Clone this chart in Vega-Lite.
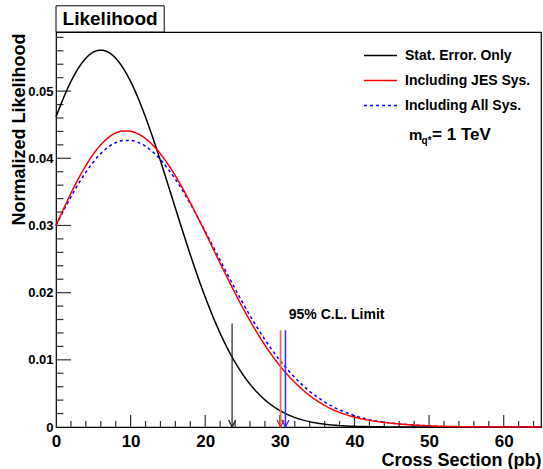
{
"$schema": "https://vega.github.io/schema/vega-lite/v6.json",
"width": 485, "height": 395,
"autosize": {"type": "none"},
"padding": {"left": 56, "top": 32, "right": 2, "bottom": 42},
"background": "white",
"config": {"font": "Liberation Sans", "view": {"stroke": "#000", "strokeWidth": 1.2}},
"datasets": {
"curves": [
{"series":"Stat. Error. Only","x":0,"y":0.04613},{"series":"Stat. Error. Only","x":1,"y":0.04897},{"series":"Stat. Error. Only","x":2,"y":0.05143},{"series":"Stat. Error. Only","x":3,"y":0.05342},{"series":"Stat. Error. Only","x":4,"y":0.05489},{"series":"Stat. Error. Only","x":5,"y":0.0558},{"series":"Stat. Error. Only","x":6,"y":0.0561},{"series":"Stat. Error. Only","x":7,"y":0.0558},{"series":"Stat. Error. Only","x":8,"y":0.05489},{"series":"Stat. Error. Only","x":9,"y":0.05342},{"series":"Stat. Error. Only","x":10,"y":0.05143},{"series":"Stat. Error. Only","x":11,"y":0.04897},{"series":"Stat. Error. Only","x":12,"y":0.04613},{"series":"Stat. Error. Only","x":13,"y":0.04298},{"series":"Stat. Error. Only","x":14,"y":0.03962},{"series":"Stat. Error. Only","x":15,"y":0.03612},{"series":"Stat. Error. Only","x":16,"y":0.03258},{"series":"Stat. Error. Only","x":17,"y":0.02907},{"series":"Stat. Error. Only","x":18,"y":0.02565},{"series":"Stat. Error. Only","x":19,"y":0.02239},{"series":"Stat. Error. Only","x":20,"y":0.01934},{"series":"Stat. Error. Only","x":21,"y":0.01652},{"series":"Stat. Error. Only","x":22,"y":0.01395},{"series":"Stat. Error. Only","x":23,"y":0.01166},{"series":"Stat. Error. Only","x":24,"y":0.00964},{"series":"Stat. Error. Only","x":25,"y":0.00789},{"series":"Stat. Error. Only","x":26,"y":0.00638},{"series":"Stat. Error. Only","x":27,"y":0.00511},{"series":"Stat. Error. Only","x":28,"y":0.00404},{"series":"Stat. Error. Only","x":29,"y":0.00317},{"series":"Stat. Error. Only","x":30,"y":0.00245},{"series":"Stat. Error. Only","x":31,"y":0.00188},{"series":"Stat. Error. Only","x":32,"y":0.00142},{"series":"Stat. Error. Only","x":33,"y":0.00107},{"series":"Stat. Error. Only","x":34,"y":0.00079},{"series":"Stat. Error. Only","x":35,"y":0.00058},{"series":"Stat. Error. Only","x":36,"y":0.00042},{"series":"Stat. Error. Only","x":37,"y":0.0003},{"series":"Stat. Error. Only","x":38,"y":0.00021},{"series":"Stat. Error. Only","x":40,"y":0.0001},{"series":"Stat. Error. Only","x":42,"y":0.00005},{"series":"Stat. Error. Only","x":44,"y":0.00002},{"series":"Stat. Error. Only","x":46,"y":0.00001},{"series":"Stat. Error. Only","x":48,"y":0},{"series":"Stat. Error. Only","x":52,"y":0},{"series":"Stat. Error. Only","x":58,"y":0},{"series":"Stat. Error. Only","x":65,"y":0},
{"series":"Including All Sys.","x":0,"y":0.03},{"series":"Including All Sys.","x":1,"y":0.03219},{"series":"Including All Sys.","x":2,"y":0.03427},{"series":"Including All Sys.","x":3,"y":0.0362},{"series":"Including All Sys.","x":4,"y":0.03793},{"series":"Including All Sys.","x":5,"y":0.03945},{"series":"Including All Sys.","x":6,"y":0.0407},{"series":"Including All Sys.","x":7,"y":0.04167},{"series":"Including All Sys.","x":8,"y":0.04232},{"series":"Including All Sys.","x":9,"y":0.04266},{"series":"Including All Sys.","x":10,"y":0.04266},{"series":"Including All Sys.","x":11,"y":0.04237},{"series":"Including All Sys.","x":12,"y":0.04178},{"series":"Including All Sys.","x":13,"y":0.04092},{"series":"Including All Sys.","x":14,"y":0.0398},{"series":"Including All Sys.","x":15,"y":0.03844},{"series":"Including All Sys.","x":16,"y":0.03688},{"series":"Including All Sys.","x":17,"y":0.03512},{"series":"Including All Sys.","x":18,"y":0.03322},{"series":"Including All Sys.","x":19,"y":0.03121},{"series":"Including All Sys.","x":20,"y":0.02912},{"series":"Including All Sys.","x":21,"y":0.02698},{"series":"Including All Sys.","x":22,"y":0.02482},{"series":"Including All Sys.","x":23,"y":0.02268},{"series":"Including All Sys.","x":24,"y":0.02058},{"series":"Including All Sys.","x":25,"y":0.01854},{"series":"Including All Sys.","x":26,"y":0.01659},{"series":"Including All Sys.","x":27,"y":0.01474},{"series":"Including All Sys.","x":28,"y":0.01301},{"series":"Including All Sys.","x":29,"y":0.0114},{"series":"Including All Sys.","x":30,"y":0.00992},{"series":"Including All Sys.","x":31,"y":0.00858},{"series":"Including All Sys.","x":32,"y":0.00736},{"series":"Including All Sys.","x":33,"y":0.00627},{"series":"Including All Sys.","x":34,"y":0.00531},{"series":"Including All Sys.","x":35,"y":0.00447},{"series":"Including All Sys.","x":36,"y":0.00373},{"series":"Including All Sys.","x":37,"y":0.00309},{"series":"Including All Sys.","x":38,"y":0.00254},{"series":"Including All Sys.","x":40,"y":0.0017},{"series":"Including All Sys.","x":42,"y":0.0011},{"series":"Including All Sys.","x":44,"y":0.00072},{"series":"Including All Sys.","x":46,"y":0.00046},{"series":"Including All Sys.","x":48,"y":0.00029},{"series":"Including All Sys.","x":50,"y":0.00016},{"series":"Including All Sys.","x":52,"y":0.00007},{"series":"Including All Sys.","x":55,"y":0.00002},{"series":"Including All Sys.","x":58,"y":0},{"series":"Including All Sys.","x":65,"y":0},
{"series":"Including JES Sys.","x":0,"y":0.03},{"series":"Including JES Sys.","x":1,"y":0.03245},{"series":"Including JES Sys.","x":2,"y":0.03479},{"series":"Including JES Sys.","x":3,"y":0.03696},{"series":"Including JES Sys.","x":4,"y":0.03891},{"series":"Including JES Sys.","x":5,"y":0.04062},{"series":"Including JES Sys.","x":6,"y":0.04201},{"series":"Including JES Sys.","x":7,"y":0.04307},{"series":"Including JES Sys.","x":8,"y":0.04377},{"series":"Including JES Sys.","x":9,"y":0.04408},{"series":"Including JES Sys.","x":10,"y":0.04402},{"series":"Including JES Sys.","x":11,"y":0.04363},{"series":"Including JES Sys.","x":12,"y":0.04293},{"series":"Including JES Sys.","x":13,"y":0.04193},{"series":"Including JES Sys.","x":14,"y":0.04066},{"series":"Including JES Sys.","x":15,"y":0.03913},{"series":"Including JES Sys.","x":16,"y":0.03739},{"series":"Including JES Sys.","x":17,"y":0.03546},{"series":"Including JES Sys.","x":18,"y":0.03339},{"series":"Including JES Sys.","x":19,"y":0.03121},{"series":"Including JES Sys.","x":20,"y":0.02895},{"series":"Including JES Sys.","x":21,"y":0.02666},{"series":"Including JES Sys.","x":22,"y":0.02437},{"series":"Including JES Sys.","x":23,"y":0.02212},{"series":"Including JES Sys.","x":24,"y":0.01992},{"series":"Including JES Sys.","x":25,"y":0.01782},{"series":"Including JES Sys.","x":26,"y":0.01582},{"series":"Including JES Sys.","x":27,"y":0.01394},{"series":"Including JES Sys.","x":28,"y":0.01219},{"series":"Including JES Sys.","x":29,"y":0.01059},{"series":"Including JES Sys.","x":30,"y":0.00912},{"series":"Including JES Sys.","x":31,"y":0.00781},{"series":"Including JES Sys.","x":32,"y":0.00663},{"series":"Including JES Sys.","x":33,"y":0.00559},{"series":"Including JES Sys.","x":34,"y":0.00468},{"series":"Including JES Sys.","x":35,"y":0.00389},{"series":"Including JES Sys.","x":36,"y":0.00321},{"series":"Including JES Sys.","x":37,"y":0.00264},{"series":"Including JES Sys.","x":38,"y":0.00217},{"series":"Including JES Sys.","x":40,"y":0.00148},{"series":"Including JES Sys.","x":42,"y":0.001},{"series":"Including JES Sys.","x":44,"y":0.00068},{"series":"Including JES Sys.","x":46,"y":0.00045},{"series":"Including JES Sys.","x":48,"y":0.00029},{"series":"Including JES Sys.","x":50,"y":0.00018},{"series":"Including JES Sys.","x":52,"y":0.0001},{"series":"Including JES Sys.","x":55,"y":0.00004},{"series":"Including JES Sys.","x":58,"y":0.00001},{"series":"Including JES Sys.","x":61,"y":0},{"series":"Including JES Sys.","x":65,"y":0}
],
"arrows": [
{"series":"Stat. Error. Only","x":23.6,"top":0.0154},
{"series":"Including JES Sys.","x":30.1,"top":0.0144},
{"series":"Including All Sys.","x":30.75,"top":0.0144}
],
"xmajor": [{"v":10},{"v":20},{"v":30},{"v":40},{"v":50},{"v":60}],
"xminor": [{"v":2},{"v":4},{"v":6},{"v":8},{"v":12},{"v":14},{"v":16},{"v":18},{"v":22},{"v":24},{"v":26},{"v":28},{"v":32},{"v":34},{"v":36},{"v":38},{"v":42},{"v":44},{"v":46},{"v":48},{"v":52},{"v":54},{"v":56},{"v":58},{"v":62},{"v":64}],
"ymajor": [{"v":0.01},{"v":0.02},{"v":0.03},{"v":0.04},{"v":0.05}],
"yminor": [{"v":0.002},{"v":0.004},{"v":0.006},{"v":0.008},{"v":0.012},{"v":0.014},{"v":0.016},{"v":0.018},{"v":0.022},{"v":0.024},{"v":0.026},{"v":0.028},{"v":0.032},{"v":0.034},{"v":0.036},{"v":0.038},{"v":0.042},{"v":0.044},{"v":0.046},{"v":0.048},{"v":0.052},{"v":0.054},{"v":0.056},{"v":0.058}]
},
"layer": [
{
"data": {"name": "xmajor"},
"mark": {"type": "tick", "orient": "vertical", "size": 24, "thickness": 1.2, "color": "#333", "opacity": 1, "clip": true},
"encoding": {
"x": {"field": "v", "type": "quantitative", "scale": {"domain": [0, 65], "nice": false, "zero": false}, "axis": null},
"y": {"datum": 0, "type": "quantitative", "scale": {"domain": [0, 0.0588], "nice": false, "zero": false}, "axis": null}
}
},
{
"data": {"name": "xminor"},
"mark": {"type": "tick", "orient": "vertical", "size": 12, "thickness": 1.2, "color": "#333", "opacity": 1, "clip": true},
"encoding": {
"x": {"field": "v", "type": "quantitative", "scale": {"domain": [0, 65], "nice": false, "zero": false}, "axis": null},
"y": {"datum": 0, "type": "quantitative", "scale": {"domain": [0, 0.0588], "nice": false, "zero": false}, "axis": null}
}
},
{
"data": {"name": "ymajor"},
"mark": {"type": "tick", "orient": "horizontal", "size": 30, "thickness": 1.2, "color": "#333", "opacity": 1, "clip": true},
"encoding": {
"y": {"field": "v", "type": "quantitative", "scale": {"domain": [0, 0.0588], "nice": false, "zero": false}, "axis": null},
"x": {"datum": 0, "type": "quantitative", "scale": {"domain": [0, 65], "nice": false, "zero": false}, "axis": null}
}
},
{
"data": {"name": "yminor"},
"mark": {"type": "tick", "orient": "horizontal", "size": 15, "thickness": 1.2, "color": "#333", "opacity": 1, "clip": true},
"encoding": {
"y": {"field": "v", "type": "quantitative", "scale": {"domain": [0, 0.0588], "nice": false, "zero": false}, "axis": null},
"x": {"datum": 0, "type": "quantitative", "scale": {"domain": [0, 65], "nice": false, "zero": false}, "axis": null}
}
},
{
"data": {"name": "curves"},
"mark": {"type": "line", "strokeWidth": 1.5, "interpolate": "monotone"},
"encoding": {
"x": {"field": "x", "type": "quantitative", "scale": {"domain": [0, 65], "nice": false, "zero": false},
"axis": {"orient": "bottom", "values": [0,10,20,30,40,50,60], "ticks": false, "domain": false, "grid": false, "labelFontSize": 17, "labelFontWeight": "bold", "labelPadding": 6, "labelFlush": false, "labelOverlap": false, "labelColor": "#000", "title": "Cross Section (pb)", "titleFontSize": 18, "titleFontWeight": "bold", "titleX": 485, "titleY": 38, "titleAlign": "right", "titleBaseline": "alphabetic", "titleColor": "#000"}},
"y": {"field": "y", "type": "quantitative", "scale": {"domain": [0, 0.0588], "nice": false, "zero": false},
"axis": {"orient": "left", "values": [0,0.01,0.02,0.03,0.04,0.05], "labelExpr": "datum.value == 0 ? '0' : format(datum.value, '.2f')", "ticks": false, "domain": false, "grid": false, "labelFontSize": 13, "labelFontWeight": "bold", "labelPadding": 3, "labelColor": "#000", "labelOverlap": false, "title": "Normalized Likelihood", "titleFontSize": 18, "titleFontWeight": "bold", "titleAngle": -90, "titleX": -28, "titleY": 1, "titleAlign": "right", "titleBaseline": "bottom", "titleColor": "#000"}},
"color": {"field": "series", "type": "nominal", "scale": {"domain": ["Stat. Error. Only","Including JES Sys.","Including All Sys."], "range": ["#000000","#ff0000","#0000ff"]},
"legend": {"orient": "none", "legendX": 307, "legendY": 6, "title": null, "direction": "vertical", "symbolType": "stroke", "symbolSize": 1089, "symbolStrokeWidth": 1.5, "labelFontSize": 14, "labelFontWeight": "bold", "labelFont": "Liberation Sans", "labelColor": "#000", "labelOffset": 7, "rowPadding": -3.7, "padding": 0, "labelLimit": 300}},
"strokeDash": {"field": "series", "type": "nominal", "scale": {"domain": ["Stat. Error. Only","Including JES Sys.","Including All Sys."], "range": [[1,0],[1,0],[3,3]]},
"legend": {"orient": "none", "legendX": 307, "legendY": 6, "title": null, "direction": "vertical", "symbolType": "stroke", "symbolSize": 1089, "symbolStrokeWidth": 1.5, "labelFontSize": 14, "labelFontWeight": "bold", "labelFont": "Liberation Sans", "labelColor": "#000", "labelOffset": 7, "rowPadding": -3.7, "padding": 0, "labelLimit": 300}}
}
},
{
"data": {"name": "arrows"},
"transform": [{"filter": "datum.series === 'Stat. Error. Only'"}],
"mark": {"type": "rule", "strokeWidth": 1.2, "color": "#222222"},
"encoding": {
"x": {"field": "x", "type": "quantitative", "scale": {"domain": [0, 65], "nice": false, "zero": false}, "axis": null},
"y": {"field": "top", "type": "quantitative", "scale": {"domain": [0, 0.0588], "nice": false, "zero": false}, "axis": null},
"y2": {"datum": 0}
}
},
{
"data": {"name": "arrows"},
"transform": [{"filter": "datum.series === 'Including JES Sys.'"}],
"mark": {"type": "rule", "strokeWidth": 1.8, "color": "#e46a6a"},
"encoding": {
"x": {"field": "x", "type": "quantitative", "scale": {"domain": [0, 65], "nice": false, "zero": false}, "axis": null},
"y": {"field": "top", "type": "quantitative", "scale": {"domain": [0, 0.0588], "nice": false, "zero": false}, "axis": null},
"y2": {"datum": 0}
}
},
{
"data": {"name": "arrows"},
"transform": [{"filter": "datum.series === 'Including All Sys.'"}],
"mark": {"type": "rule", "strokeWidth": 1.5, "color": "#2b2bff"},
"encoding": {
"x": {"field": "x", "type": "quantitative", "scale": {"domain": [0, 65], "nice": false, "zero": false}, "axis": null},
"y": {"field": "top", "type": "quantitative", "scale": {"domain": [0, 0.0588], "nice": false, "zero": false}, "axis": null},
"y2": {"datum": 0}
}
},
{
"data": {"name": "arrows"},
"transform": [{"filter": "datum.series === 'Stat. Error. Only'"}],
"mark": {"type": "point", "shape": "M-1,-2L0,0L1,-2", "filled": false, "size": 49, "strokeWidth": 1.3, "opacity": 1, "color": "#222222"},
"encoding": {
"x": {"field": "x", "type": "quantitative", "scale": {"domain": [0, 65], "nice": false, "zero": false}, "axis": null},
"y": {"datum": 0, "type": "quantitative", "scale": {"domain": [0, 0.0588], "nice": false, "zero": false}, "axis": null}
}
},
{
"data": {"name": "arrows"},
"transform": [{"filter": "datum.series === 'Including JES Sys.'"}],
"mark": {"type": "point", "shape": "M-1,-2L0,0L1,-2", "filled": false, "size": 49, "strokeWidth": 1.3, "opacity": 1, "color": "#ee2222"},
"encoding": {
"x": {"field": "x", "type": "quantitative", "scale": {"domain": [0, 65], "nice": false, "zero": false}, "axis": null},
"y": {"datum": 0, "type": "quantitative", "scale": {"domain": [0, 0.0588], "nice": false, "zero": false}, "axis": null}
}
},
{
"data": {"name": "arrows"},
"transform": [{"filter": "datum.series === 'Including All Sys.'"}],
"mark": {"type": "point", "shape": "M-1,-2L0,0L1,-2", "filled": false, "size": 49, "strokeWidth": 1.3, "opacity": 1, "color": "#2b2bff"},
"encoding": {
"x": {"field": "x", "type": "quantitative", "scale": {"domain": [0, 65], "nice": false, "zero": false}, "axis": null},
"y": {"datum": 0, "type": "quantitative", "scale": {"domain": [0, 0.0588], "nice": false, "zero": false}, "axis": null}
}
},
{
"data": {"values": [{}]},
"mark": {"type": "rect", "fill": "white", "stroke": "#000", "strokeWidth": 1},
"encoding": {
"x": {"datum": 0, "type": "quantitative", "scale": {"domain": [0, 65], "nice": false, "zero": false}, "axis": null},
"x2": {"datum": 14.5},
"y": {"datum": 0.0588, "type": "quantitative", "scale": {"domain": [0, 0.0588], "nice": false, "zero": false}, "axis": null},
"y2": {"datum": 0.0627}
}
},
{
"data": {"values": [{}]},
"mark": {"type": "text", "text": "Likelihood", "align": "center", "baseline": "middle", "fontSize": 19, "fontWeight": "bold", "font": "Liberation Sans", "color": "#000"},
"encoding": {
"x": {"datum": 7.25, "type": "quantitative", "scale": {"domain": [0, 65], "nice": false, "zero": false}, "axis": null},
"y": {"datum": 0.0607, "type": "quantitative", "scale": {"domain": [0, 0.0588], "nice": false, "zero": false}, "axis": null}
}
},
{
"data": {"values": [{}]},
"mark": {"type": "text", "text": "95% C.L. Limit", "align": "left", "baseline": "middle", "fontSize": 14, "fontWeight": "bold", "font": "Liberation Sans", "color": "#000"},
"encoding": {
"x": {"datum": 31.2, "type": "quantitative", "scale": {"domain": [0, 65], "nice": false, "zero": false}, "axis": null},
"y": {"datum": 0.0166, "type": "quantitative", "scale": {"domain": [0, 0.0588], "nice": false, "zero": false}, "axis": null}
}
},
{
"data": {"values": [{}]},
"mark": {"type": "text", "text": "m", "align": "left", "baseline": "alphabetic", "fontSize": 15, "fontWeight": "bold", "font": "Liberation Sans", "color": "#000"},
"encoding": {
"x": {"datum": 47.3, "type": "quantitative", "scale": {"domain": [0, 65], "nice": false, "zero": false}, "axis": null},
"y": {"datum": 0.04275, "type": "quantitative", "scale": {"domain": [0, 0.0588], "nice": false, "zero": false}, "axis": null}
}
},
{
"data": {"values": [{}]},
"mark": {"type": "text", "text": "q*", "align": "left", "baseline": "alphabetic", "fontSize": 10, "fontWeight": "bold", "font": "Liberation Sans", "color": "#000"},
"encoding": {
"x": {"datum": 49.0, "type": "quantitative", "scale": {"domain": [0, 65], "nice": false, "zero": false}, "axis": null},
"y": {"datum": 0.0422, "type": "quantitative", "scale": {"domain": [0, 0.0588], "nice": false, "zero": false}, "axis": null}
}
},
{
"data": {"values": [{}]},
"mark": {"type": "text", "text": "= 1 TeV", "align": "left", "baseline": "alphabetic", "fontSize": 17, "fontWeight": "bold", "font": "Liberation Sans", "color": "#000"},
"encoding": {
"x": {"datum": 50.4, "type": "quantitative", "scale": {"domain": [0, 65], "nice": false, "zero": false}, "axis": null},
"y": {"datum": 0.04275, "type": "quantitative", "scale": {"domain": [0, 0.0588], "nice": false, "zero": false}, "axis": null}
}
}
],
"resolve": {"axis": {"x": "independent", "y": "independent"}}
}
